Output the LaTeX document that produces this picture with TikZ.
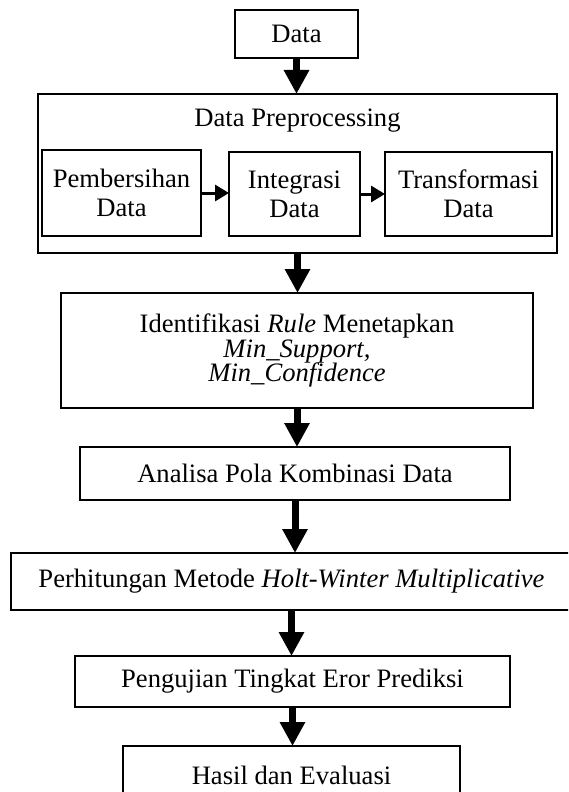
\documentclass[tikz,border=0pt]{standalone}
\usepackage{fontspec}
\setmainfont{Liberation Serif}
\usetikzlibrary{arrows.meta}
\tikzset{
  box/.style={draw, line width=1.5pt, inner sep=0pt, outer sep=0pt, align=center,
    font=\fontsize{26.6}{28}\selectfont},
  bigarr/.style={line width=7pt, -{Triangle[width=24pt,length=24pt]}},
  smallarr/.style={line width=3pt, -{Triangle[width=16pt,length=14pt]}}
}
\begin{document}
\begin{tikzpicture}[x=1pt,y=-1pt]
\useasboundingbox (0,0) rectangle (568,792);
\clip (0,0) rectangle (568,792);
\node[box, minimum width=123pt, minimum height=48pt] (data) at (296.5,34) {Data};
\node[box, minimum width=519pt, minimum height=159pt] (prep) at (297.5,173.5) {};
\node[font=\fontsize{26.6}{28}\selectfont, inner sep=0pt] (preptitle) at (297.5,121) {Data Preprocessing};
\node[box, minimum width=159pt, minimum height=86pt] (bersih) at (121.5,193) {Pembersihan\\[1pt]Data};
\node[box, minimum width=131pt, minimum height=84pt] (integ) at (294.5,194) {Integrasi\\[1pt]Data};
\node[box, minimum width=167pt, minimum height=84pt] (trans) at (468.5,194) {Transformasi\\[1pt]Data};
\node[box, minimum width=472pt, minimum height=115pt, font=\fontsize{26.6}{24.5}\selectfont] (ident) at (297,350.5)
  {Identifikasi \textit{Rule} Menetapkan\\\textit{Min\_Support,}\\\textit{Min\_Confidence}};
\node[box, minimum width=430pt, minimum height=53pt] (analisa) at (295,473.5) {Analisa Pola Kombinasi Data};
\node[box, minimum width=561pt, minimum height=57pt] (hitung) at (291.5,581.5) {Perhitungan Metode \textit{Holt-Winter Multiplicative}};
\node[box, minimum width=435pt, minimum height=51pt] (uji) at (292.5,681.5) {Pengujian Tingkat Eror Prediksi};
\node[box, minimum width=337pt, minimum height=59pt] (hasil) at (291.5,775.5) {Hasil dan Evaluasi};
\draw[bigarr] (data.south) -- (data.south |- prep.north);
\draw[smallarr] (bersih.east) -- (integ.west |- bersih.east);
\draw[smallarr] (integ.east) -- (trans.west |- integ.east);
\draw[bigarr] (prep.south) -- (prep.south |- ident.north);
\draw[bigarr] (ident.south) -- (ident.south |- analisa.north);
\draw[bigarr] (analisa.south) -- (analisa.south |- hitung.north);
\draw[bigarr] (hitung.south) -- (hitung.south |- uji.north);
\draw[bigarr] (uji.south) -- (uji.south |- hasil.north);
\end{tikzpicture}
\end{document}
